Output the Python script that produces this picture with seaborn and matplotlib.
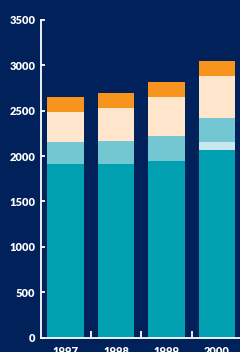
import numpy as np
import matplotlib
matplotlib.use('Agg')
import matplotlib.pyplot as plt
import seaborn as sns

years = ['1997', '1998', '1999', '2000']
base = [1915, 1915, 1948, 2069]
pale = [0, 0, 0, 89]
light = [243, 254, 276, 265]
peach = [331, 364, 430, 463]
orange = [165, 165, 166, 166]

layers = [base, pale, light, peach, orange]
colors = ['#00a0b1', '#c9e7ef', '#72c7d3', '#fee5cb', '#f7941d']
y_ticks = [0, 500, 1000, 1500, 2000, 2500, 3000, 3500]

navy = '#00215a'
sns.set_theme(style='ticks', rc={'axes.facecolor': navy, 'figure.facecolor': navy})
plt.rcParams['font.family'] = ['Lato', 'DejaVu Sans']

fig = plt.figure(figsize=(2.4, 3.52), dpi=100)
ax = fig.add_axes([41 / 240, 1 - 337.5 / 352, 1 - 41 / 240, (337.5 - 20) / 352])

cum = np.cumsum(np.array(layers), axis=0)
# draw tallest cumulative first so lower layers paint over it
for i in range(len(layers) - 1, -1, -1):
    sns.barplot(x=years, y=cum[i], color=colors[i], saturation=1, width=0.73,
                linewidth=0, ax=ax)

ax.set_ylim(0, 3500)
ax.set_xlim(-0.485, 3.455)
ax.set_yticks(y_ticks)
ax.set_yticklabels([str(v) for v in y_ticks])
ax.set_xticks(range(len(years)))
ax.set_xticklabels(years)
ax.set_xticks([0.5, 1.5, 2.5], minor=True)
ax.set_xlabel('')
ax.set_ylabel('')

for s in ['top', 'right']:
    ax.spines[s].set_visible(False)
for s in ['left', 'bottom']:
    ax.spines[s].set_color('white')
    ax.spines[s].set_linewidth(1.3)

ax.tick_params(axis='y', direction='in', length=3, width=1.3, color='white',
               labelcolor='white', labelsize=8, pad=4)
ax.tick_params(axis='x', which='major', length=0, labelcolor='white',
               labelsize=8, pad=6)
ax.tick_params(axis='x', which='minor', direction='in', length=5, width=1.3,
               color='white')
for lab in ax.get_xticklabels() + ax.get_yticklabels():
    lab.set_fontweight('heavy')

fig.savefig('out.png', dpi=100, facecolor=navy)
